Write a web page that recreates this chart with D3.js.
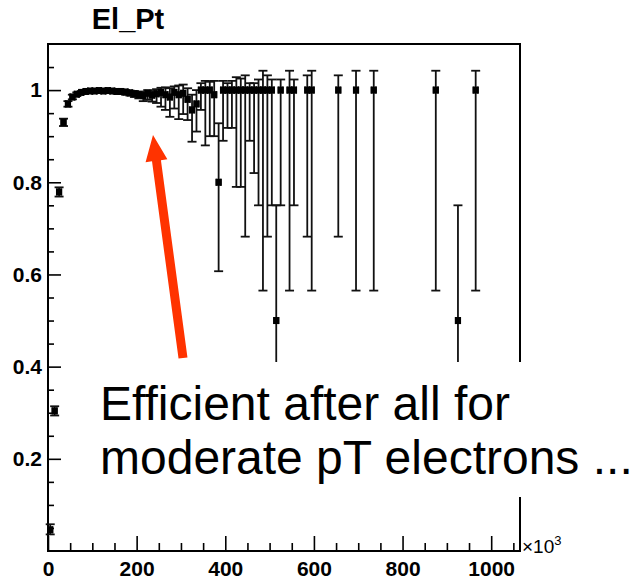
<!DOCTYPE html>
<html>
<head>
<meta charset="utf-8">
<script src="https://cdn.jsdelivr.net/npm/d3@7/dist/d3.min.js"></script>
<style>
  html, body { margin: 0; padding: 0; background: #fff; }
  svg { display: block; }
</style>
</head>
<body>
<svg id="chart" width="635" height="579"></svg>
<script>
// Electron efficiency vs pT (units of 10^3), 10k-wide bins
const binCenter = [5, 15, 25, 35, 45, 55, 65, 75, 85, 95, 105, 115, 125, 135, 145, 155, 165, 175, 185, 195,
  205, 215, 225, 235, 245, 255, 265, 275, 285, 295, 305, 315, 325, 335, 345, 355, 365, 375, 385, 395,
  405, 415, 425, 435, 445, 455, 465, 475, 485, 495, 505, 515, 525, 545, 555, 585, 595, 655, 695, 735,
  875, 925, 965];
const effValue = [0.046, 0.304, 0.779, 0.93, 0.97, 0.985, 0.991, 0.995, 0.997, 0.998, 0.998, 0.999, 0.998, 0.999, 0.998, 0.997, 0.997, 0.996, 0.994, 0.992,
  0.99, 0.988, 0.993, 0.989, 0.992, 0.995, 0.99, 0.985, 0.995, 0.99, 0.993, 0.98, 0.957, 0.97, 1.0, 1.0, 1.0, 0.99, 0.8, 1.0,
  1.0, 1.0, 1.0, 1.0, 1.0, 1.0, 1.0, 1.0, 1.0, 1.0, 1.0, 0.5, 1.0, 1.0, 1.0, 1.0, 1.0, 1.0, 1.0, 1.0,
  1.0, 0.5, 1.0];
const effLow = [0.036, 0.294, 0.769, 0.922, 0.964, 0.98, 0.987, 0.992, 0.994, 0.995, 0.995, 0.996, 0.995, 0.996, 0.994, 0.993, 0.992, 0.99, 0.988, 0.985,
  0.982, 0.976, 0.979, 0.975, 0.972, 0.964, 0.957, 0.942, 0.96, 0.937, 0.948, 0.935, 0.888, 0.91, 0.957, 0.88, 0.9, 0.9, 0.607, 0.89,
  0.918, 0.918, 0.79, 0.79, 0.682, 0.89, 0.82, 0.75, 0.565, 0.682, 0.75, 0.25, 0.75, 0.565, 0.75, 0.682, 0.565, 0.682, 0.565, 0.565,
  0.565, 0.25, 0.565];
const effHigh = [0.058, 0.314, 0.789, 0.938, 0.976, 0.99, 0.995, 0.998, 0.999, 1.0, 1.0, 1.0, 1.0, 1.0, 1.0, 1.0, 1.0, 1.0, 0.999, 0.998,
  0.997, 0.996, 1.0, 0.998, 1.002, 1.005, 1.006, 1.004, 1.008, 1.01, 1.012, 1.004, 0.99, 1.0, 1.015, 1.02, 1.018, 1.02, 0.928, 1.02,
  1.015, 1.02, 1.028, 1.025, 1.032, 1.015, 1.015, 1.023, 1.042, 1.032, 1.023, 0.75, 1.023, 1.042, 1.023, 1.032, 1.042, 1.032, 1.042, 1.042,
  1.042, 0.75, 1.042];
const binHalfWidth = 5;

const xMajorTicks = [0, 200, 400, 600, 800, 1000];
const xMinorTicks = d3.range(50, 1051, 50).filter(v => v % 200 !== 0);
const yMajorTicks = [0.2, 0.4, 0.6, 0.8, 1];
const yTickLabels = ["0.2", "0.4", "0.6", "0.8", "1"];
const yMinorTicks = d3.range(1, 22).map(i => i * 0.05).filter(v => Math.abs(v * 5 - Math.round(v * 5)) > 1e-6);

const titleText = "El_Pt";
const noteLines = ["Efficient after all for", "moderate pT electrons ..."];

(function draw() {
  const svg = d3.select("#chart");
  const plotLeft = 48, plotRight = 520, plotTop = 44, plotBottom = 551;

  const x = d3.scaleLinear().domain([0, 1065]).range([plotLeft, plotRight]);
  const y = d3.scaleLinear().domain([0, 1.1]).range([plotBottom, plotTop]);

  const font = "'Liberation Sans', Arial, Helvetica, sans-serif";

  // Title
  svg.append("text")
    .attr("x", 128).attr("y", 29)
    .attr("text-anchor", "middle")
    .attr("font-family", font).attr("font-weight", "bold").attr("font-size", 29)
    .text(titleText);

  // Axes (ticks point into the frame)
  const gx = svg.append("g").attr("transform", `translate(0,${plotBottom})`)
    .call(d3.axisBottom(x).tickValues(xMajorTicks).tickSize(-15).tickSizeOuter(0).tickPadding(10).tickFormat(d3.format("d")));
  const gxm = svg.append("g").attr("transform", `translate(0,${plotBottom})`)
    .call(d3.axisBottom(x).tickValues(xMinorTicks).tickSize(-8).tickSizeOuter(0).tickFormat(""));
  const gy = svg.append("g").attr("transform", `translate(${plotLeft},0)`)
    .call(d3.axisLeft(y).tickValues(yMajorTicks).tickSize(-13).tickSizeOuter(0).tickPadding(6)
      .tickFormat((d, i) => yTickLabels[i]));
  const gym = svg.append("g").attr("transform", `translate(${plotLeft},0)`)
    .call(d3.axisLeft(y).tickValues(yMinorTicks).tickSize(-6).tickSizeOuter(0).tickFormat(""));

  [gx, gxm, gy, gym].forEach(g => {
    g.select(".domain").remove();
    g.selectAll(".tick line").attr("stroke", "#000").attr("stroke-width", 1.6);
    g.selectAll("text").attr("font-family", font).attr("font-weight", "bold")
      .attr("font-size", 21).attr("fill", "#000");
  });

  // Frame
  svg.append("rect")
    .attr("x", plotLeft).attr("y", plotTop).attr("width", plotRight - plotLeft).attr("height", plotBottom - plotTop)
    .attr("fill", "none").attr("stroke", "#000").attr("stroke-width", 2);

  // Axis exponent
  const expo = svg.append("text")
    .attr("x", 522).attr("y", 553)
    .attr("font-family", font).attr("font-size", 19).attr("fill", "#000");
  expo.append("tspan").text("\u00d710");
  expo.append("tspan").attr("dy", -8).attr("font-size", 13).text("3");

  // Efficiency points with asymmetric errors
  const pts = binCenter.map((c, i) => ({ c, v: effValue[i], lo: effLow[i], hi: effHigh[i] }));
  const gp = svg.append("g").attr("stroke", "#111").attr("stroke-width", 1.8);
  const capHalf = 4.5;
  pts.forEach(p => {
    const cx = x(p.c);
    // vertical error bar with end caps
    gp.append("line").attr("x1", cx).attr("x2", cx).attr("y1", y(p.lo)).attr("y2", y(p.hi));
    gp.append("line").attr("x1", cx - capHalf).attr("x2", cx + capHalf).attr("y1", y(p.lo)).attr("y2", y(p.lo));
    gp.append("line").attr("x1", cx - capHalf).attr("x2", cx + capHalf).attr("y1", y(p.hi)).attr("y2", y(p.hi));
    // horizontal bin-width bar with end ticks
    const xl = x(p.c - binHalfWidth), xr = x(p.c + binHalfWidth), yv = y(p.v);
    gp.append("line").attr("x1", xl).attr("x2", xr).attr("y1", yv).attr("y2", yv);
    gp.append("line").attr("x1", xl).attr("x2", xl).attr("y1", yv - 3.5).attr("y2", yv + 3.5);
    gp.append("line").attr("x1", xr).attr("x2", xr).attr("y1", yv - 3.5).attr("y2", yv + 3.5);
  });
  svg.append("g").selectAll("rect").data(pts).join("rect")
    .attr("x", d => x(d.c) - 3).attr("y", d => y(d.v) - 3.5)
    .attr("width", 6).attr("height", 7).attr("fill", "#000");

  // Annotation box and text
  svg.append("rect")
    .attr("x", 88).attr("y", 362).attr("width", 635 - 88).attr("height", 135)
    .attr("fill", "#fff");
  svg.append("text")
    .attr("font-family", font).attr("font-size", 48).attr("fill", "#000")
    .selectAll("tspan").data(noteLines).join("tspan")
    .attr("x", 100).attr("y", (d, i) => 420 + i * 54)
    .text(d => d);

  // Red arrow pointing at the plateau
  const tail = [183, 358], tip = [153, 135];
  const dx = tip[0] - tail[0], dy = tip[1] - tail[1];
  const len = Math.hypot(dx, dy);
  const ux = dx / len, uy = dy / len, px = -uy, py = ux;
  const headLen = 26, headHalf = 11, shaftHalf = 4.5;
  const bx = tip[0] - ux * headLen, by = tip[1] - uy * headLen;
  const arrowPts = [
    [tail[0] + px * shaftHalf, tail[1] + py * shaftHalf],
    [bx + px * shaftHalf, by + py * shaftHalf],
    [bx + px * headHalf, by + py * headHalf],
    tip,
    [bx - px * headHalf, by - py * headHalf],
    [bx - px * shaftHalf, by - py * shaftHalf],
    [tail[0] - px * shaftHalf, tail[1] - py * shaftHalf]
  ];
  svg.append("path")
    .attr("d", d3.line()(arrowPts) + "Z")
    .attr("fill", "#ff3300");
})();
</script>
</body>
</html>
